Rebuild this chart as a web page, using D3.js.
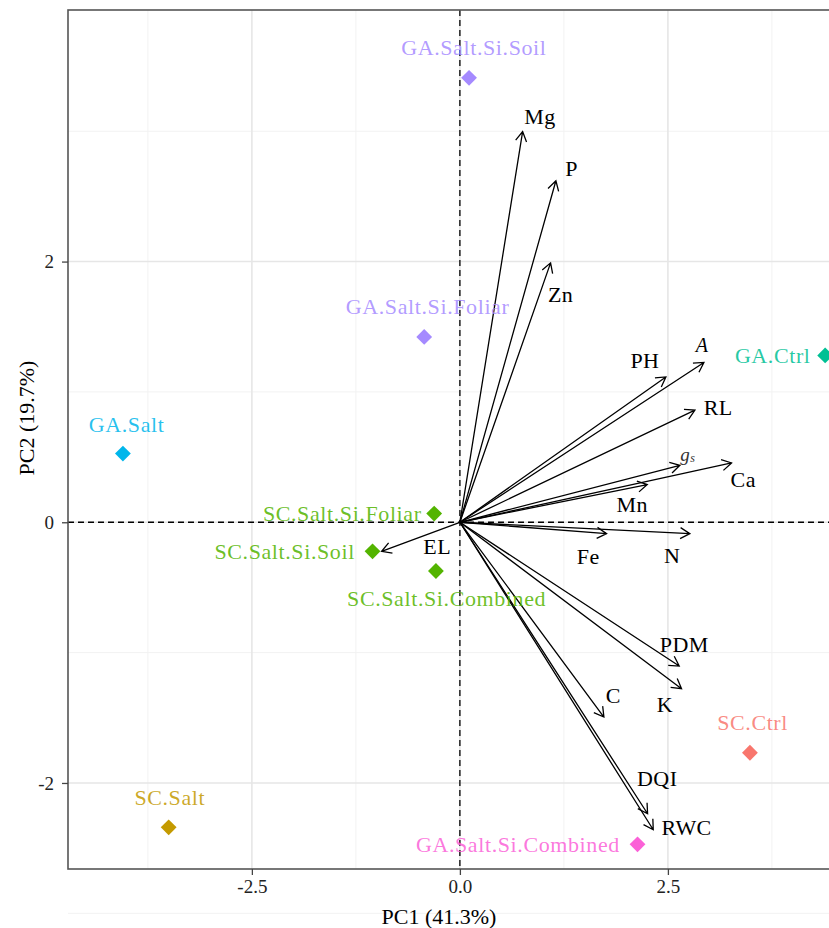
<!DOCTYPE html>
<html>
<head>
<meta charset="utf-8">
<script src="https://cdn.jsdelivr.net/npm/d3@7"></script>
<style>
  body { margin: 0; background: #fff; }
  svg text { font-family: 'Palatino Linotype', Palatino, 'Book Antiqua', 'Liberation Serif', serif; }
</style>
</head>
<body>
<div id="chart"></div>
<script>
// Variable loadings (arrows)
const varNames = ['Mg', 'P', 'Zn', 'PH', 'A', 'RL', 'gs', 'Ca', 'Mn', 'Fe', 'N', 'PDM', 'K', 'C', 'DQI', 'RWC', 'EL'];
const varPC1 = [0.754, 1.154, 1.090, 2.476, 2.933, 2.825, 2.644, 3.265, 2.252, 1.763, 2.764, 2.636, 2.664, 1.731, 2.256, 2.324, -0.941];
const varPC2 = [2.997, 2.620, 1.990, 1.115, 1.226, 0.860, 0.437, 0.455, 0.289, -0.087, -0.087, -1.103, -1.277, -1.494, -2.236, -2.359, -0.223];
// where the repelled variable labels ended up (data units)
const varLabelPC1 = [0.962, 1.343, 1.210, 2.224, 2.912, 3.105, 2.740, 3.405, 2.071, 1.542, 2.552, 2.696, 2.464, 1.843, 2.372, 2.725, -0.273];
const varLabelPC2 = [3.116, 2.715, 1.750, 1.243, 1.358, 0.877, 0.527, 0.330, 0.136, -0.266, -0.253, -0.936, -1.397, -1.327, -1.967, -2.338, -0.189];

// Treatment scores (points)
const groupNames = ['GA.Salt.Si.Soil', 'GA.Salt.Si.Foliar', 'GA.Salt', 'GA.Ctrl', 'SC.Salt.Si.Foliar',
    'SC.Salt.Si.Soil', 'SC.Salt.Si.Combined', 'GA.Salt.Si.Combined', 'SC.Ctrl', 'SC.Salt'];
const groupColorKey = ['GA.Salt.Si', 'GA.Salt.Si', 'GA.Salt', 'GA.Ctrl', 'SC.Salt.Si',
    'SC.Salt.Si', 'SC.Salt.Si', 'GA.Salt.Si.Combined', 'SC.Ctrl', 'SC.Salt'];
const groupPC1 = [0.110, -0.429, -4.050, 4.390, -0.309, -1.050, -0.288, 2.135, 3.486, -3.500];
const groupPC2 = [3.410, 1.422, 0.527, 1.280, 0.067, -0.223, -0.374, -2.471, -1.768, -2.340];
const groupLabelPC1 = [0.168, -0.388, -4.006, 4.215, -0.460, -1.262, -0.160, 1.923, 3.518, -3.486];
const groupLabelPC2 = [3.645, 1.652, 0.750, 1.282, 0.069, -0.223, -0.586, -2.471, -1.537, -2.108];
const groupLabelAnchor = ['middle', 'middle', 'middle', 'end', 'end', 'end', 'middle', 'end', 'middle', 'middle'];

const colorKeys = ['SC.Ctrl', 'SC.Salt', 'SC.Salt.Si', 'GA.Ctrl', 'GA.Salt', 'GA.Salt.Si', 'GA.Salt.Si.Combined'];
const colorValues = ['#F8766D', '#C49A00', '#53B400', '#00C094', '#00B6EB', '#A58AFF', '#FB61D7'];

const xTicks = [-2.5, 0, 2.5];
const yTicks = [-2, 0, 2];
const xMinor = [-3.75, -1.25, 1.25, 3.75];
const yMinor = [-3, -1, 1, 3];

const width = 829, height = 928;
const panel = { left: 68, top: 10, bottom: 869, right: 868 };

const svg = d3.select('#chart').append('svg')
    .attr('width', width)
    .attr('height', height);

const x = d3.scaleLinear([-4.71, 4.905], [panel.left, panel.right]);
const y = d3.scaleLinear([-2.66, 3.93], [panel.bottom, panel.top]);
const color = d3.scaleOrdinal(colorKeys, colorValues);

// grid
const grid = svg.append('g');
grid.selectAll('line.minx').data(xMinor).join('line')
    .attr('x1', d => x(d)).attr('x2', d => x(d))
    .attr('y1', panel.top).attr('y2', panel.bottom)
    .attr('stroke', '#f2f2f2').attr('stroke-width', 1);
grid.selectAll('line.miny').data(yMinor).join('line')
    .attr('y1', d => y(d)).attr('y2', d => y(d))
    .attr('x1', panel.left).attr('x2', panel.right)
    .attr('stroke', '#f2f2f2').attr('stroke-width', 1);
grid.selectAll('line.majx').data(xTicks).join('line')
    .attr('x1', d => x(d)).attr('x2', d => x(d))
    .attr('y1', panel.top).attr('y2', panel.bottom)
    .attr('stroke', '#e6e6e6').attr('stroke-width', 1.6);
grid.selectAll('line.majy').data(yTicks).join('line')
    .attr('y1', d => y(d)).attr('y2', d => y(d))
    .attr('x1', panel.left).attr('x2', panel.right)
    .attr('stroke', '#e6e6e6').attr('stroke-width', 1.6);

// dashed zero lines
svg.append('line')
    .attr('x1', panel.left).attr('x2', panel.right)
    .attr('y1', y(0)).attr('y2', y(0))
    .attr('stroke', '#000').attr('stroke-width', 1.3).attr('stroke-dasharray', '6,4');
svg.append('line')
    .attr('x1', x(0)).attr('x2', x(0))
    .attr('y1', panel.top).attr('y2', panel.bottom)
    .attr('stroke', '#000').attr('stroke-width', 1.3).attr('stroke-dasharray', '6,4');

// arrows
const arrows = svg.append('g')
    .attr('fill', 'none').attr('stroke', '#000').attr('stroke-width', 1.3);
varNames.forEach((name, i) => {
    const x0 = x(0), y0 = y(0), x1 = x(varPC1[i]), y1 = y(varPC2[i]);
    const ang = Math.atan2(y1 - y0, x1 - x0);
    const len = 11, spread = Math.PI / 6;
    const a1 = [x1 - len * Math.cos(ang - spread), y1 - len * Math.sin(ang - spread)];
    const a2 = [x1 - len * Math.cos(ang + spread), y1 - len * Math.sin(ang + spread)];
    arrows.append('path')
        .attr('d', `M${x0},${y0}L${x1},${y1}M${a1[0]},${a1[1]}L${x1},${y1}L${a2[0]},${a2[1]}`);
});

// variable labels
const varLabels = svg.append('g')
    .attr('font-size', 22).attr('fill', '#000')
    .attr('text-anchor', 'middle').attr('dominant-baseline', 'central')
    .style('letter-spacing', '0.4px');
varNames.forEach((name, i) => {
    const t = varLabels.append('text')
        .attr('x', x(varLabelPC1[i])).attr('y', y(varLabelPC2[i]));
    if (name === 'gs') {
        t.attr('font-size', 19).attr('fill', '#333');
        t.append('tspan').attr('font-style', 'italic').text('g');
        t.append('tspan').attr('font-style', 'italic').attr('font-size', 12).attr('dy', 4).text('s');
    } else if (name === 'A') {
        t.attr('font-style', 'italic').attr('font-size', 20).text(name);
    } else {
        t.text(name);
    }
});

// points
svg.append('g').selectAll('path')
    .data(groupNames)
    .join('path')
    .attr('d', d3.symbol(d3.symbolSquare, 125))
    .attr('transform', (d, i) => `translate(${x(groupPC1[i])},${y(groupPC2[i])}) rotate(45)`)
    .attr('fill', (d, i) => color(groupColorKey[i]));

// point labels
svg.append('g').selectAll('text')
    .data(groupNames)
    .join('text')
    .attr('x', (d, i) => x(groupLabelPC1[i]))
    .attr('y', (d, i) => y(groupLabelPC2[i]))
    .attr('text-anchor', (d, i) => groupLabelAnchor[i])
    .attr('dominant-baseline', 'central')
    .attr('font-size', 22)
    .style('letter-spacing', '0.6px')
    .attr('fill', (d, i) => color(groupColorKey[i]))
    .attr('fill-opacity', 0.85)
    .text(d => d);

// panel border
svg.append('rect')
    .attr('x', panel.left).attr('y', panel.top)
    .attr('width', panel.right - panel.left).attr('height', panel.bottom - panel.top)
    .attr('fill', 'none').attr('stroke', '#555').attr('stroke-width', 1.6);

// axes (ggplot prints a plain hyphen for negatives)
const hyphen = f => d => f(d).replace('\u2212', '-');
const axisX = svg.append('g')
    .attr('transform', `translate(0, ${panel.bottom})`)
    .call(d3.axisBottom(x).tickValues(xTicks).tickFormat(hyphen(d3.format('.1f'))).tickSize(6).tickPadding(5));
const axisY = svg.append('g')
    .attr('transform', `translate(${panel.left}, 0)`)
    .call(d3.axisLeft(y).tickValues(yTicks).tickFormat(hyphen(d3.format('d'))).tickSize(6).tickPadding(8));
[axisX, axisY].forEach(a => {
    a.select('.domain').remove();
    a.selectAll('line').attr('stroke', '#444').attr('stroke-width', 1.3);
    a.selectAll('text')
        .attr('font-size', 19)
        .attr('fill', '#222')
        .style('font-family', "'Palatino Linotype', Palatino, 'Liberation Serif', serif");
});

// axis titles
svg.append('text')
    .attr('x', 439).attr('y', 924)
    .attr('text-anchor', 'middle')
    .attr('font-size', 22)
    .text('PC1 (41.3%)');
svg.append('text')
    .attr('transform', 'translate(34, 418) rotate(-90)')
    .attr('text-anchor', 'middle')
    .attr('font-size', 22)
    .text('PC2 (19.7%)');
</script>
</body>
</html>
